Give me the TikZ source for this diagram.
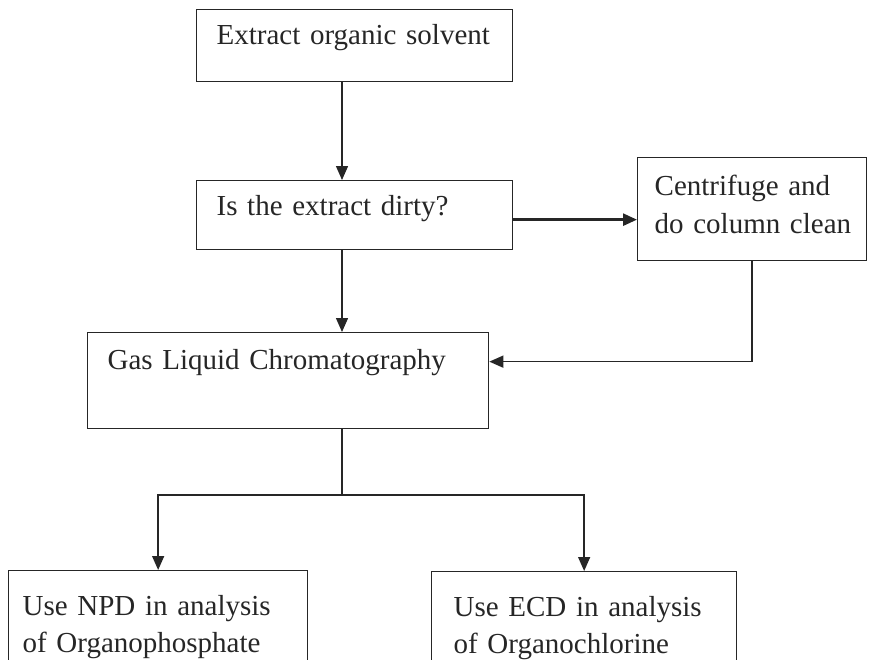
\documentclass[tikz,border=0pt]{standalone}
\usepackage{fontspec}
\setmainfont{Liberation Serif}
\usetikzlibrary{arrows.meta,positioning,calc}

\begin{document}
\begin{tikzpicture}[
    x=1pt, y=-1pt,
    every node/.style={font=\fontsize{29}{38}\selectfont},
    box/.style={rectangle, draw=black!85, line width=1.3pt, anchor=north west,
                align=left, inner ysep=0pt, inner xsep=20pt, text=black!85},
    low/.style={font=\fontsize{29}{37}\selectfont, text height=45pt, text depth=80pt},
    arr/.style={-{Triangle[length=14pt,width=12pt]}, line width=1.4pt, draw=black!85},
]
\useasboundingbox (0,0) rectangle (869,659);
\clip (0,0) rectangle (869,659);

% Nodes
\node[box, text width=276pt, text height=35pt, text depth=37pt] (solvent) at (196,9)
    {Extract organic solvent};
\node[box, text width=276pt, text height=35pt, text depth=34pt] (dirty) at (196,180)
    {Is the extract dirty?};
\node[box, inner xsep=17pt, text width=195pt, text height=38pt, text depth=65pt] (clean) at (637,157)
    {Centrifuge and\\\mbox{do column clean}};
\node[box, text width=361pt, text height=37pt, text depth=59pt] (glc) at (87,332)
    {Gas Liquid Chromatography};
\node[box, low, inner xsep=14pt, text width=271pt] (npd) at (8,570)
    {Use NPD in analysis\\of Organophosphate};
\node[box, low, inner xsep=22pt, text width=261pt] (ecd) at (431,571)
    {Use ECD in analysis\\of Organochlorine};

\coordinate (spine) at (342,0);
\coordinate (fork) at (342,495);

% Arrows
\draw[arr] (solvent.south -| spine) -- (dirty.north -| spine);
\draw[arr, line width=2.6pt] ([yshift=-4.5pt]dirty.east) -- ([yshift=-4.5pt]dirty.east -| clean.west);
\draw[arr] (dirty.south -| spine) -- (glc.north -| spine);
\draw[arr] (clean.south) |- ([yshift=19pt]glc.east);
\draw[line width=1.4pt, draw=black!85] (glc.south -| spine) -- (fork);
\draw[arr] (fork) -| (npd.north);
\draw[arr] (fork) -| (ecd.north);

\end{tikzpicture}
\end{document}
